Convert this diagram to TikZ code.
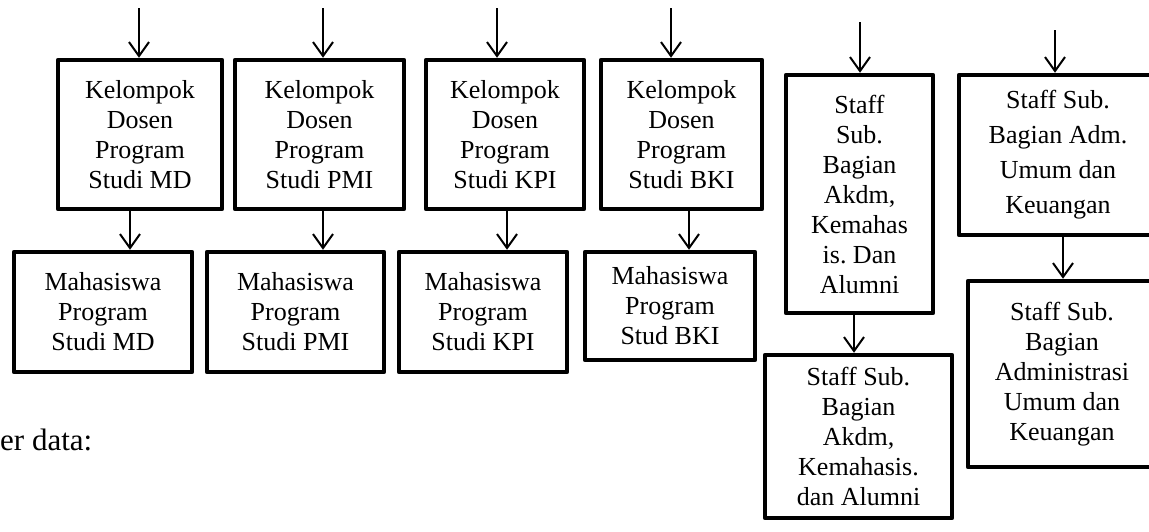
\documentclass[tikz,border=0pt]{standalone}
\usepackage{fontspec}
\setmainfont{Liberation Serif}
\usetikzlibrary{arrows.meta}

\tikzset{
  kotak/.style={draw=black,line width=4.5pt,line join=round,align=center,inner sep=0pt,font=\fontsize{26}{30}\selectfont\frenchspacing},
  panah/.style={line width=2pt,-{Straight Barb[length=14pt,width=20pt]}}
}

\begin{document}
\begin{tikzpicture}[x=1pt,y=-1pt]
  \clip (0,0) rectangle (1149,531);

  % kelompok dosen
  \node [kotak,minimum width=164pt,minimum height=149pt] at (140,134.5) (K1) {Kelompok\\Dosen\\Program\\Studi MD};
  \node [kotak,minimum width=169pt,minimum height=149pt] at (319.5,134.5) (K2) {Kelompok\\Dosen\\Program\\Studi PMI};
  \node [kotak,minimum width=158pt,minimum height=149pt] at (505,134.5) (K3) {Kelompok\\Dosen\\Program\\Studi KPI};
  \node [kotak,minimum width=161pt,minimum height=149pt] at (681.5,134.5) (K4) {Kelompok\\Dosen\\Program\\Studi BKI};

  % mahasiswa
  \node [kotak,minimum width=178pt,minimum height=120pt] at (103,312) (M1) {Mahasiswa\\Program\\Studi MD};
  \node [kotak,minimum width=177pt,minimum height=120pt] at (295.5,312) (M2) {Mahasiswa\\Program\\Studi PMI};
  \node [kotak,minimum width=168pt,minimum height=120pt] at (483,312) (M3) {Mahasiswa\\Program\\Studi KPI};
  \node [kotak,minimum width=170pt,minimum height=108pt] at (670,306) (M4) {Mahasiswa\\Program\\Stud BKI};

  % staff
  \node [kotak,minimum width=147pt,minimum height=238pt] at (859.5,194) (S1) {Staff\\Sub.\\Bagian\\Akdm,\\Kemahas\\is. Dan\\Alumni};
  \node [kotak,minimum width=198pt,minimum height=160pt,font=\fontsize{26}{35}\selectfont\frenchspacing] at (1058,155) (S2) {Staff Sub.\\Bagian Adm.\\Umum dan\\Keuangan};
  \node [kotak,minimum width=187pt,minimum height=163pt] at (858.5,436.5) (S3) {Staff Sub.\\Bagian\\Akdm,\\Kemahasis.\\dan Alumni};
  \node [kotak,minimum width=188pt,minimum height=186pt] at (1062,374) (S4) {Staff Sub.\\Bagian\\Administrasi\\Umum dan\\Keuangan};

  \node [anchor=base west,inner sep=0pt,font=\fontsize{31}{36}\selectfont] at (0,450) (D) {er data:};

  % arrows from above
  \coordinate (T1) at (139,8);
  \coordinate (T2) at (323,8);
  \coordinate (T3) at (497,8);
  \coordinate (T4) at (671,8);
  \coordinate (T5) at (860,22);
  \coordinate (T6) at (1055,30);
  \draw [panah] (T1) -- (T1 |- K1.north);
  \draw [panah] (T2) -- (T2 |- K2.north);
  \draw [panah] (T3) -- (T3 |- K3.north);
  \draw [panah] (T4) -- (T4 |- K4.north);
  \draw [panah] (T5) -- (T5 |- S1.north);
  \draw [panah] (T6) -- (T6 |- S2.north);

  % arrows between boxes
  \draw [panah] ([xshift=-10pt]K1.south) -- ([xshift=-10pt]K1.south |- M1.north);
  \draw [panah] ([xshift=3.5pt]K2.south) -- ([xshift=3.5pt]K2.south |- M2.north);
  \draw [panah] ([xshift=2pt]K3.south) -- ([xshift=2pt]K3.south |- M3.north);
  \draw [panah] ([xshift=7.5pt]K4.south) -- ([xshift=7.5pt]K4.south |- M4.north);
  \draw [panah] ([xshift=-5.5pt]S1.south) -- ([xshift=-5.5pt]S1.south |- S3.north);
  \draw [panah] ([xshift=5pt]S2.south) -- ([xshift=5pt]S2.south |- S4.north);

\end{tikzpicture}
\end{document}
